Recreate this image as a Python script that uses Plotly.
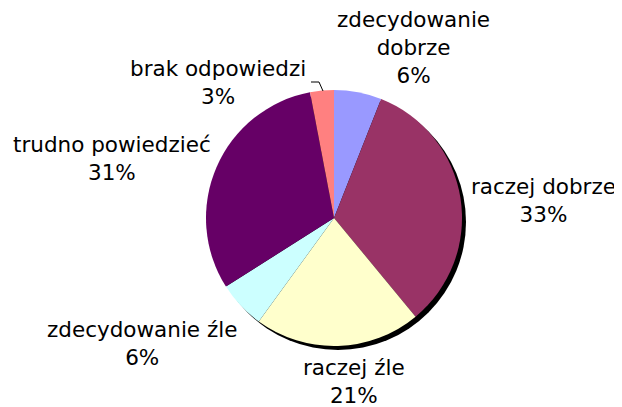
import plotly.graph_objects as go

# strona ma 8 px marginesu body, więc figura jest mniejsza i przesunięta
OFF = 8
W, H = 622 - OFF, 407 - OFF

# dane wykresu
categories = ["zdecydowanie<br>dobrze", "raczej dobrze", "raczej źle",
              "zdecydowanie źle", "trudno powiedzieć", "brak odpowiedzi"]
values = [6, 33, 21, 6, 31, 3]
colors = ["#9999FF", "#993366", "#FFFFCC", "#CCFFFF", "#660066", "#FF8080"]

# pozycje etykiet (piksele ekranu, środek bloku tekstu)
label_pos = [(413, 47), (543, 200), (354, 381), (142, 343), (112, 158), (218, 82)]

CX, CY, R = 334, 218, 128
SHADOW = (4, 4)


def px_x(x):
    return (x - OFF) / W


def px_y(y):
    return 1 - (y - OFF) / H


def domain(dx=0, dy=0):
    return {
        "x": [px_x(CX - R + dx), px_x(CX + R + dx)],
        "y": [px_y(CY + R + dy), px_y(CY - R + dy)],
    }


fig = go.Figure()

# cień pod wykresem
fig.add_trace(go.Pie(
    values=[1], marker={"colors": ["#000000"], "line": {"width": 0}},
    textinfo="none", hoverinfo="skip", showlegend=False, sort=False,
    domain=domain(*SHADOW),
))

fig.add_trace(go.Pie(
    labels=categories, values=values,
    marker={"colors": colors, "line": {"width": 0}},
    textinfo="none", showlegend=False, sort=False,
    direction="clockwise", rotation=0,
    domain=domain(),
))

font = {"family": "Verdana, DejaVu Sans, sans-serif", "size": 21.5, "color": "#000000"}
annotations = []
for cat, val, (x, y) in zip(categories, values, label_pos):
    annotations.append({
        "text": f"{cat}<br>{val}%",
        "x": px_x(x), "y": px_y(y), "xref": "paper", "yref": "paper",
        "xanchor": "center", "yanchor": "middle", "showarrow": False,
        "align": "center", "font": font,
    })

# linia odniesienia dla "brak odpowiedzi"
shapes = [{
    "type": "path", "xref": "paper", "yref": "paper",
    "path": f"M {px_x(311)},{px_y(82)} L {px_x(319)},{px_y(82)} L {px_x(323)},{px_y(91)}",
    "line": {"color": "#000000", "width": 1},
}]

fig.update_layout(
    width=W, height=H,
    margin={"l": 0, "r": 0, "t": 0, "b": 0},
    paper_bgcolor="#FFFFFF", plot_bgcolor="#FFFFFF",
    annotations=annotations, shapes=shapes,
)

fig.write_html("out.html")
